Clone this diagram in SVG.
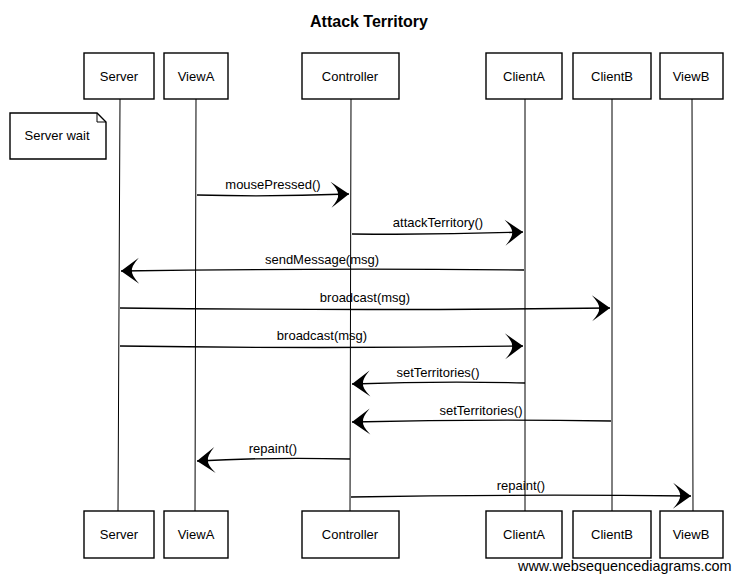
<svg xmlns="http://www.w3.org/2000/svg" width="738" height="581" viewBox="0 0 738 581">
<style>
.box{fill:#fff;stroke:#000;stroke-width:1.4}
.life{stroke:#000;stroke-width:1;fill:none}
.msg{stroke:#000;stroke-width:1.3;fill:none}
.t{font-family:"Liberation Sans",Arial,sans-serif;font-size:13px;fill:#000;text-anchor:middle}
.title{font-family:"Liberation Sans",Arial,sans-serif;font-size:16px;font-weight:bold;fill:#000;text-anchor:middle}
.wm{font-family:"Liberation Sans",Arial,sans-serif;font-size:14.4px;fill:#000}
</style>
<defs>
<marker id="ah" markerWidth="22" markerHeight="30" viewBox="-20 -15 22 30" refX="0" refY="0" orient="auto" markerUnits="userSpaceOnUse">
<path d="M0,0 L-18,-13 Q-10,-4 -11,0 Q-10,4 -18,13 Z" fill="#000"/>
</marker>
</defs>
<rect width="738" height="581" fill="#fff"/>
<text class="title" x="369" y="27">Attack Territory</text>
<g id="lifelines">
<path class="life" d="M120,99 L118,511"/>
<path class="life" d="M196,99 L195,511"/>
<path class="life" d="M351,99 L350,511"/>
<path class="life" d="M525,99 L525,511"/>
<path class="life" d="M612,99 L612,511"/>
<path class="life" d="M692,99 L693,511"/>
</g>
<g id="Server"><rect class="box" x="84" y="53" width="70" height="46"/><text class="t" x="119" y="81">Server</text></g>
<g id="ViewA"><rect class="box" x="164" y="53" width="64" height="46"/><text class="t" x="196" y="81">ViewA</text></g>
<g id="Controller"><rect class="box" x="302" y="53" width="97" height="46"/><text class="t" x="350" y="81">Controller</text></g>
<g id="ClientA"><rect class="box" x="486" y="53" width="76" height="46"/><text class="t" x="524" y="81">ClientA</text></g>
<g id="ClientB"><rect class="box" x="573" y="53" width="78" height="46"/><text class="t" x="612" y="81">ClientB</text></g>
<g id="ViewB"><rect class="box" x="660" y="53" width="63" height="46"/><text class="t" x="691" y="81">ViewB</text></g>
<g id="Server-bottom"><rect class="box" x="84" y="511" width="70" height="47"/><text class="t" x="119" y="539">Server</text></g>
<g id="ViewA-bottom"><rect class="box" x="164" y="511" width="64" height="47"/><text class="t" x="196" y="539">ViewA</text></g>
<g id="Controller-bottom"><rect class="box" x="302" y="511" width="97" height="47"/><text class="t" x="350" y="539">Controller</text></g>
<g id="ClientA-bottom"><rect class="box" x="486" y="511" width="76" height="47"/><text class="t" x="524" y="539">ClientA</text></g>
<g id="ClientB-bottom"><rect class="box" x="573" y="511" width="78" height="47"/><text class="t" x="612" y="539">ClientB</text></g>
<g id="ViewB-bottom"><rect class="box" x="660" y="511" width="63" height="47"/><text class="t" x="691" y="539">ViewB</text></g>
<g id="note">
<path class="box" d="M10,113 L97,113 L106,122 L106,159 L10,159 Z"/>
<path class="life" d="M97,113 L97,122 L106,122"/>
<text class="t" x="57" y="140">Server wait</text>
</g>
<g id="connectors">
<path class="msg" marker-end="url(#ah)" d="M197,195 Q270,197 349,194"/>
<path class="msg" marker-end="url(#ah)" d="M352,234 Q440,235 523,232"/>
<path class="msg" marker-end="url(#ah)" d="M524,270 Q320,268 121,271"/>
<path class="msg" marker-end="url(#ah)" d="M120,308 Q370,311 610,308"/>
<path class="msg" marker-end="url(#ah)" d="M120,346 Q320,349 523,346"/>
<path class="msg" marker-end="url(#ah)" d="M525,383 Q440,381 352,384"/>
<path class="msg" marker-end="url(#ah)" d="M611,421 Q480,419 352,422"/>
<path class="msg" marker-end="url(#ah)" d="M350,459 Q270,457 197,461"/>
<path class="msg" marker-end="url(#ah)" d="M351,497 Q520,494 691,496"/>
</g>
<g id="labels">
<text class="t" x="273" y="189">mousePressed()</text>
<text class="t" x="438" y="227">attackTerritory()</text>
<text class="t" x="322" y="264">sendMessage(msg)</text>
<text class="t" x="365" y="302">broadcast(msg)</text>
<text class="t" x="322" y="340">broadcast(msg)</text>
<text class="t" x="438" y="377">setTerritories()</text>
<text class="t" x="481" y="415">setTerritories()</text>
<text class="t" x="273" y="453">repaint()</text>
<text class="t" x="521" y="490">repaint()</text>
</g>
<text class="wm" x="518" y="571">www.websequencediagrams.com</text>
</svg>
